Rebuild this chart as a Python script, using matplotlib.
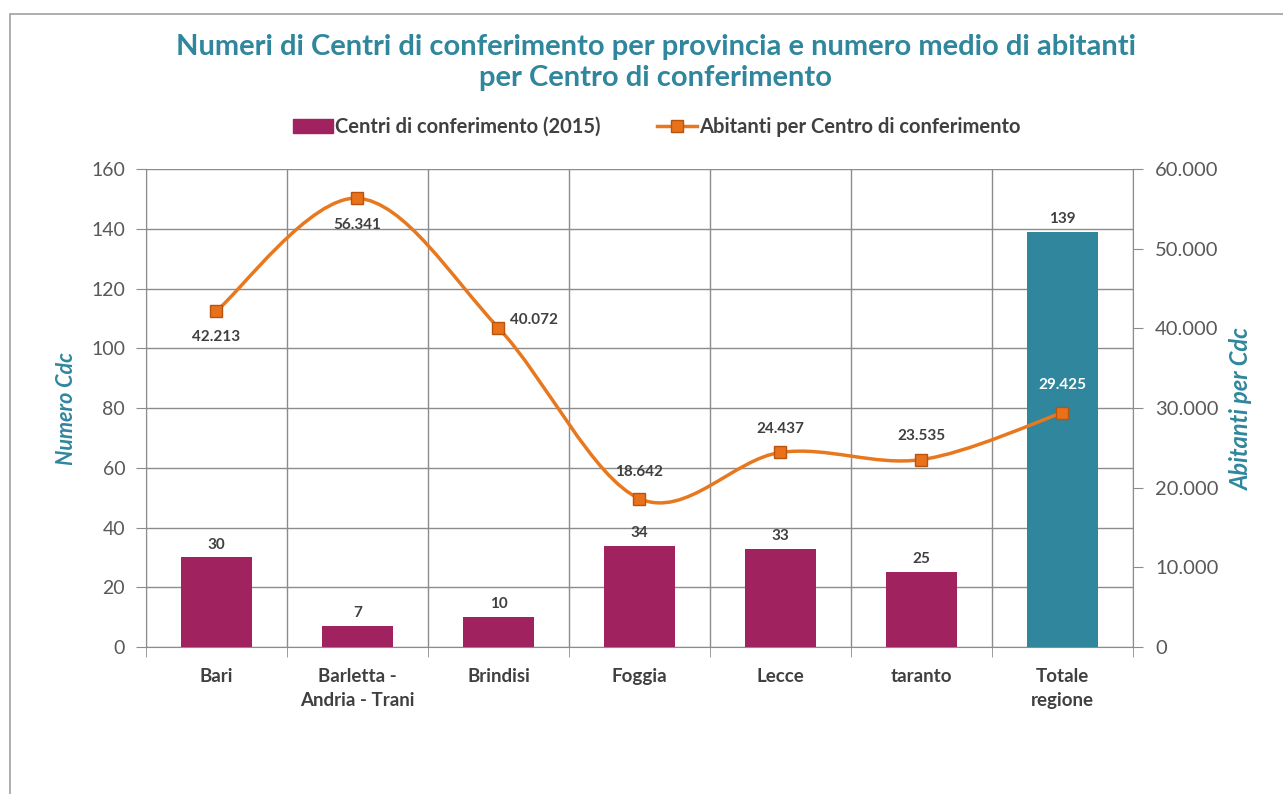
import numpy as np
import matplotlib.pyplot as plt
from matplotlib.path import Path
from matplotlib.patches import PathPatch, Rectangle
from matplotlib.lines import Line2D
from matplotlib.ticker import FuncFormatter, FixedLocator

plt.rcParams['font.family'] = ['Lato', 'DejaVu Sans']

# dati
province = ['Bari', 'Barletta -\nAndria - Trani', 'Brindisi', 'Foggia', 'Lecce', 'taranto', 'Totale\nregione']
centri = [30, 7, 10, 34, 33, 25, 139]
abitanti = [42213, 56341, 40072, 18642, 24437, 23535, 29425]
etichette_abitanti = ['42.213', '56.341', '40.072', '18.642', '24.437', '23.535', '29.425']

viola = '#A0235F'
teal = '#2F869D'
arancio = '#E8781E'
grigio = '#595959'
testo = '#404040'

fig = plt.figure(figsize=(12.83, 7.94), dpi=100)
fig.patches.append(Rectangle((0.008, -0.01), 1.1, 0.992, transform=fig.transFigure,
                             fill=False, edgecolor='#A0A0A0', linewidth=1.2))

ax = fig.add_axes([0.1138, 0.185, 0.7692, 0.602])
ax2 = ax.twinx()

x = np.arange(len(province))
colori = [viola] * 6 + [teal]
ax.bar(x, centri, width=0.5, color=colori, zorder=3)
for xi, v in zip(x, centri):
    ax.text(xi, v + 2, str(v), ha='center', va='bottom', fontsize=11,
            fontweight='bold', color=testo, zorder=5)

ax.set_xlim(-0.5, len(province) - 0.5)
ax.set_ylim(0, 160)
ax.set_yticks(np.arange(0, 161, 20))
ax.set_xticks(x)
ax.set_xticklabels(province, fontsize=13.5, fontweight='bold', color=testo, linespacing=1.5)
ax.tick_params(axis='x', length=0, pad=15)
ax.xaxis.set_minor_locator(FixedLocator(np.arange(-0.5, len(province), 1)))
ax.tick_params(axis='x', which='minor', length=7, color='#8C8C8C')
ax.tick_params(axis='y', labelsize=14, labelcolor=grigio, length=7, color='#8C8C8C', pad=8)
ax.grid(axis='y', color='#8C8C8C', linewidth=1, zorder=0)
ax.grid(axis='x', which='minor', color='#8C8C8C', linewidth=1, zorder=0)
ax.set_axisbelow(True)
for s in ['top', 'right']:
    ax.spines[s].set_visible(False)
ax.spines['left'].set_color('#8C8C8C')
ax.spines['bottom'].set_color('#8C8C8C')
ax.set_ylabel('Numero Cdc', fontsize=15.5, fontweight='bold', fontstyle='italic',
              color=teal, labelpad=10)

ax2.set_ylim(0, 60000)
ax2.set_yticks(np.arange(0, 60001, 10000))
ax2.yaxis.set_major_formatter(FuncFormatter(lambda v, p: f'{int(v):,}'.replace(',', '.')))
ax2.tick_params(axis='y', labelsize=14.5, labelcolor=grigio, length=7, color='#8C8C8C', pad=9)
for s in ['top', 'left', 'bottom']:
    ax2.spines[s].set_visible(False)
ax2.spines['right'].set_color('#8C8C8C')
ax2.set_ylabel('Abitanti per Cdc', fontsize=17, fontweight='bold', fontstyle='italic',
               color=teal, labelpad=8)

# linea smussata (Bezier tipo Excel)
pts = np.column_stack([x, abitanti]).astype(float)
verts = [tuple(pts[0])]
codes = [Path.MOVETO]
n = len(pts)
for i in range(n - 1):
    p0 = pts[i - 1] if i > 0 else pts[i]
    p1 = pts[i]
    p2 = pts[i + 1]
    p3 = pts[i + 2] if i + 2 < n else pts[i + 1]
    c1 = p1 + (p2 - p0) / 6.0
    c2 = p2 - (p3 - p1) / 6.0
    verts += [tuple(c1), tuple(c2), tuple(p2)]
    codes += [Path.CURVE4] * 3
ax2.add_patch(PathPatch(Path(verts, codes), facecolor='none', edgecolor=arancio,
                        linewidth=2.5, zorder=4))
ax2.plot(x, abitanti, linestyle='none', marker='s', markersize=8,
         markerfacecolor='#E8711A', markeredgecolor='#B8540E', markeredgewidth=1, zorder=5)

offset = [(0, -14, 'center', 'top'), (0, -14, 'center', 'top'), (8, 6, 'left', 'center'),
          (0, 14, 'center', 'bottom'), (0, 12, 'center', 'bottom'), (0, 12, 'center', 'bottom'),
          (0, 20, 'center', 'center')]
for i, (xi, v, lab) in enumerate(zip(x, abitanti, etichette_abitanti)):
    dx, dy, ha, va = offset[i]
    ax2.annotate(lab, (xi, v), xytext=(dx, dy), textcoords='offset points',
                 ha=ha, va=va, fontsize=11, fontweight='bold',
                 color='white' if i == 6 else testo, zorder=6)

fig.text(0.511, 0.921, 'Numeri di Centri di conferimento per provincia e numero medio di abitanti\nper Centro di conferimento',
         ha='center', va='center', fontsize=21, fontweight='bold', color=teal, linespacing=1.25)

handles = [Rectangle((0, 0), 1, 1, color=viola),
           Line2D([0], [0], color=arancio, linewidth=2.5, marker='s', markersize=8,
                  markerfacecolor='#E8711A', markeredgecolor='#B8540E')]
fig.legend(handles, ['Centri di conferimento (2015)', 'Abitanti per Centro di conferimento'],
           loc='center', bbox_to_anchor=(0.512, 0.84), ncol=2, frameon=False,
           prop={'size': 14.5, 'weight': 'bold'}, labelcolor=testo, handlelength=2.0,
           handletextpad=0.1, columnspacing=2.8)

fig.savefig('out.png', dpi=100)
